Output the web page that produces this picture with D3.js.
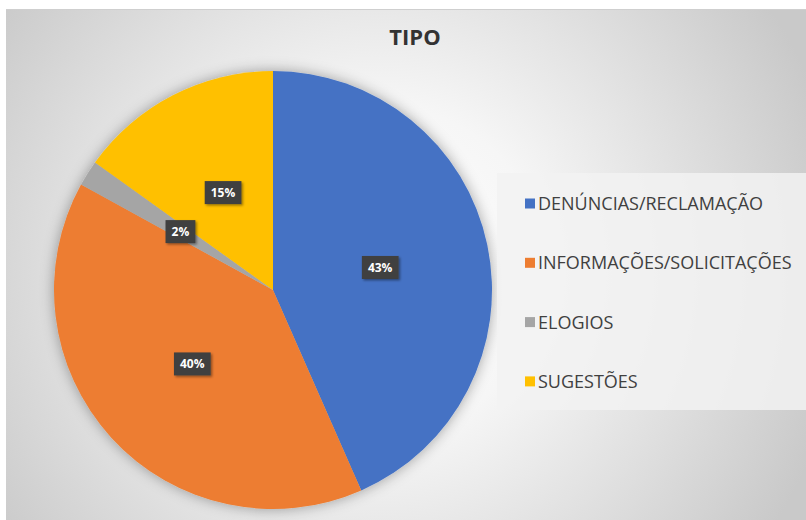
<!DOCTYPE html>
<html>
<head>
    <meta charset="utf-8">
    <title>TIPO</title>
    <script src="https://cdn.jsdelivr.net/npm/d3@7" type="text/javascript" charset="utf-8"></script>
    <style>
      body { margin: 0; background: #fff; }
      text { font-family: "Open Sans", "DejaVu Sans", sans-serif; }
    </style>
</head>
<body>
<script type="text/javascript">
    // dados
    var categorias = ["DENÚNCIAS/RECLAMAÇÃO", "INFORMAÇÕES/SOLICITAÇÕES", "ELOGIOS", "SUGESTÕES"];
    var valores = [43.4, 39.6, 1.9, 15.1];
    var cores = ["#4472C4", "#ED7D31", "#A5A5A5", "#FFC000"];

    var width = 806, height = 520,
        cx = 273, cy = 290, radius = 219;

    var svg = d3.select("body").append("svg")
      .attr("width", width)
      .attr("height", height);

    var defs = svg.append("defs");
    var grad = defs.append("radialGradient")
      .attr("id", "fundo")
      .attr("gradientUnits", "userSpaceOnUse")
      .attr("cx", 380).attr("cy", 270).attr("r", 470);
    grad.append("stop").attr("offset", "0").attr("stop-color", "#ffffff");
    grad.append("stop").attr("offset", "0.35").attr("stop-color", "#f6f6f6");
    grad.append("stop").attr("offset", "1").attr("stop-color", "#c9c9c9");

    var sombra = defs.append("filter").attr("id", "sombra")
      .attr("x", "-20%").attr("y", "-20%").attr("width", "140%").attr("height", "140%");
    sombra.append("feDropShadow").attr("dx", 0).attr("dy", 0)
      .attr("stdDeviation", 7).attr("flood-color", "#000").attr("flood-opacity", 0.35);

    var sombraRotulo = defs.append("filter").attr("id", "sombraRotulo")
      .attr("x", "-30%").attr("y", "-30%").attr("width", "160%").attr("height", "160%");
    sombraRotulo.append("feDropShadow").attr("dx", 1.5).attr("dy", 1.5)
      .attr("stdDeviation", 1.2).attr("flood-color", "#000").attr("flood-opacity", 0.4);

    // área do gráfico
    svg.append("rect")
      .attr("x", 6).attr("y", 9)
      .attr("width", width - 6).attr("height", height - 9)
      .attr("fill", "url(#fundo)");
    svg.append("line")
      .attr("x1", 6).attr("x2", width).attr("y1", 9.5).attr("y2", 9.5)
      .attr("stroke", "#cfcfcf").attr("stroke-width", 1);

    svg.append("text")
      .attr("x", 415).attr("y", 45)
      .attr("text-anchor", "middle")
      .attr("font-size", 22).attr("font-weight", "bold")
      .attr("fill", "#333")
      .text("TIPO");

    var pie = d3.pie().sort(null).value(function(d) { return d; });
    var arc = d3.arc().innerRadius(0).outerRadius(radius);
    var arcs = pie(valores);

    var g = svg.append("g").attr("transform", "translate(" + cx + "," + cy + ")");
    g.append("g").attr("filter", "url(#sombra)")
      .selectAll("path").data(arcs).enter().append("path")
      .attr("d", arc)
      .attr("fill", function(d, i) { return cores[i]; });

    // rótulos de dados
    var total = d3.sum(valores);
    var rotulos = g.selectAll(".rotulo").data(arcs).enter().append("g")
      .attr("class", "rotulo")
      .attr("transform", function(d) { return "translate(" + arc.centroid(d) + ")"; });
    rotulos.append("text")
      .attr("text-anchor", "middle").attr("dy", "0.36em")
      .attr("font-size", 12).attr("font-weight", "bold")
      .attr("fill", "#fff")
      .text(function(d) { return Math.round(d.value / total * 100) + "%"; })
      .each(function() {
        var b = this.getBBox();
        d3.select(this.parentNode).insert("rect", "text")
          .attr("x", b.x - 6).attr("y", -11.5)
          .attr("width", b.width + 12).attr("height", 23)
          .attr("fill", "#404040")
          .attr("filter", "url(#sombraRotulo)");
      });

    // legenda
    var leg = svg.append("g");
    leg.append("rect")
      .attr("x", 497).attr("y", 173)
      .attr("width", width - 497).attr("height", 237)
      .attr("fill", "#f2f2f2").attr("opacity", 0.85);
    var itens = leg.selectAll(".item").data(categorias).enter().append("g")
      .attr("class", "item")
      .attr("transform", function(d, i) { return "translate(525," + (203.5 + i * 59.3) + ")"; });
    itens.append("rect")
      .attr("x", 0).attr("y", -5).attr("width", 10).attr("height", 10)
      .attr("fill", function(d, i) { return cores[i]; });
    itens.append("text")
      .attr("x", 13).attr("y", 6.5)
      .attr("font-size", 18).attr("fill", "#404040")
      .text(function(d) { return d; });
</script>
</body>
</html>
